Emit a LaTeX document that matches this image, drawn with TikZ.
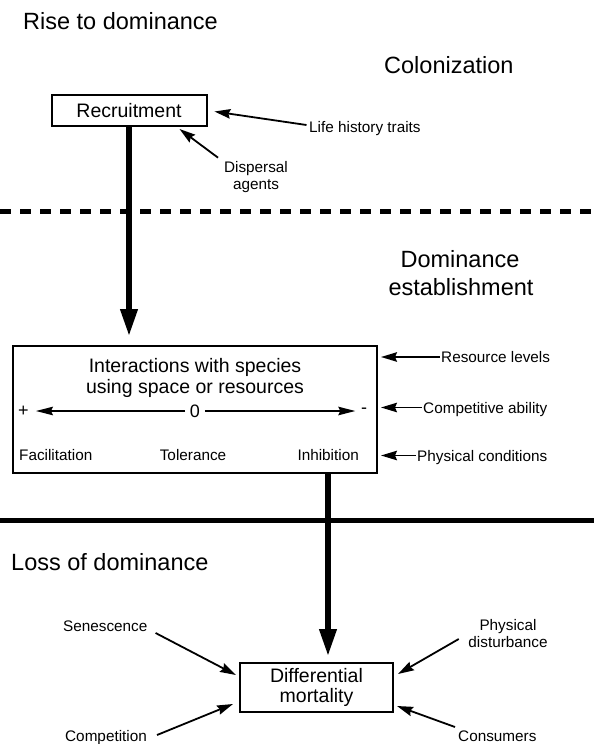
\documentclass[tikz,border=0pt]{standalone}
\usepackage{fontspec}
\setmainfont{Liberation Sans}
\usetikzlibrary{arrows.meta}
\begin{document}
\begin{tikzpicture}[x=1pt,y=-1pt,
  hfont/.style={font=\fontsize{23.5}{26}\selectfont, inner sep=0pt},
  bfont/.style={font=\fontsize{19.5}{21}\selectfont},
  sfont/.style={font=\fontsize{15.3}{17}\selectfont, inner sep=1.5pt},
  oneline/.style={text height=11pt, text depth=0pt},
  boxnode/.style={draw, line width=2pt, inner sep=0pt},
  thickarrow/.style={line width=6.5pt, -{Triangle[length=28pt,width=16pt]}},
  thinarrow/.style={line width=1.8pt, -{Stealth[length=16pt,width=9.5pt,inset=2pt]}},
  midarrow/.style={line width=1.5pt, -{Stealth[length=17pt,width=8.5pt,inset=2pt]}},
  divider/.style={line width=5pt},
]
\useasboundingbox (0,0) rectangle (594,744);

% headings
\node[hfont, anchor=base west] (rise) at (23,29) {Rise to dominance};
\node[hfont, anchor=base west] (colon) at (384,73) {Colonization};
\node[hfont, anchor=base] (dom1) at (460,267) {Dominance};
\node[hfont, anchor=base] (dom2) at (461,295.5) {establishment};
\node[hfont, anchor=base west] (loss) at (11,570) {Loss of dominance};

% dividers
\coordinate (dl) at (0,211); \coordinate (dr) at (594,211);
\draw[divider, dash pattern=on 11pt off 9pt] (dl) -- (dr);
\coordinate (sl) at (0,520); \coordinate (sr) at (594,520);
\draw[divider] (sl) -- (sr);

% recruitment
\node[boxnode, bfont, minimum width=155pt, minimum height=31pt] (rec) at (129,110.5) {Recruitment};
\node[sfont, oneline, anchor=west] (lht) at (307.5,127) {Life history traits};
\node[sfont, align=center] (disp) at (256,177) {Dispersal\\agents};
\draw[thinarrow, shorten >=7pt] ([shift={(-1,-2)}]lht.west) -- (rec.east);
\draw[thinarrow] ([shift={(-38,-2)}]disp.north) -- ([shift={(-28,2)}]rec.south east);

% interactions box
\node[boxnode, minimum width=364pt, minimum height=127pt] (int) at (195,409.5) {};
\node[font=\fontsize{19.5}{21}\selectfont, align=center] (intt) at (195,377.5) {Interactions with species\\using space or resources};
\node[font=\fontsize{18}{20}\selectfont, inner sep=0pt] (plus) at (23.5,411) {+};
\node[font=\fontsize{18}{20}\selectfont, inner sep=0pt] (zero) at (195,411) {0};
\node[font=\fontsize{18}{20}\selectfont, inner sep=0pt] (minus) at (364,411) {-};
\draw[midarrow, shorten <=4.6pt, shorten >=7pt] (zero.west) -- (plus.east);
\draw[midarrow, shorten <=4.6pt, shorten >=5.5pt] (zero.east) -- (minus.west);
\node[sfont, oneline, anchor=west] (fac) at (17.5,455) {Facilitation};
\node[sfont, oneline] (tol) at (193,455) {Tolerance};
\node[sfont, oneline, anchor=east] (inh) at (360.5,455) {Inhibition};

\node[sfont, oneline, anchor=west] (res) at (439.5,357) {Resource levels};
\node[sfont, oneline, anchor=west] (comp) at (421.5,407.5) {Competitive ability};
\node[sfont, oneline, anchor=west] (phc) at (415.5,455.5) {Physical conditions};
\draw[thinarrow, shorten >=3pt] (res.west) -- (res.west -| int.east);
\draw[thinarrow, shorten >=3pt] (comp.west) -- (comp.west -| int.east);
\draw[thinarrow, shorten >=3pt] (phc.west) -- (phc.west -| int.east);

% thick arrows
\draw[thickarrow, shorten >=8pt] (rec.south) -- (rec.south |- int.north);
\node[boxnode, font=\fontsize{19.5}{20}\selectfont, align=center, minimum width=153pt, minimum height=49pt] (mort) at (316.5,687.5) {Differential\\mortality};
\coordinate (a2) at ([xshift=133pt]int.south);
\draw[thickarrow, shorten >=5pt] (a2) -- (a2 |- mort.north);

% mortality factors
\node[sfont, oneline, anchor=west] (sen) at (61.5,626) {Senescence};
\node[sfont, oneline, anchor=west] (compet) at (63.5,736) {Competition};
\node[sfont, align=center] (pdist) at (508,633.4) {Physical\\disturbance};
\node[sfont, oneline, anchor=west] (cons) at (456.5,736) {Consumers};
\draw[thinarrow] ([shift={(6.5,7)}]sen.east) -- ([shift={(-3,-12.5)}]mort.west);
\draw[thinarrow] ([shift={(8.5,-1)}]compet.east) -- ([shift={(-6,16.5)}]mort.west);
\draw[thinarrow] ([shift={(-8,5.6)}]pdist.west) -- ([shift={(4,-13.5)}]mort.east);
\draw[thinarrow] ([shift={(-1.5,-9)}]cons.west) -- ([shift={(3,18.5)}]mort.east);
\end{tikzpicture}
\end{document}
